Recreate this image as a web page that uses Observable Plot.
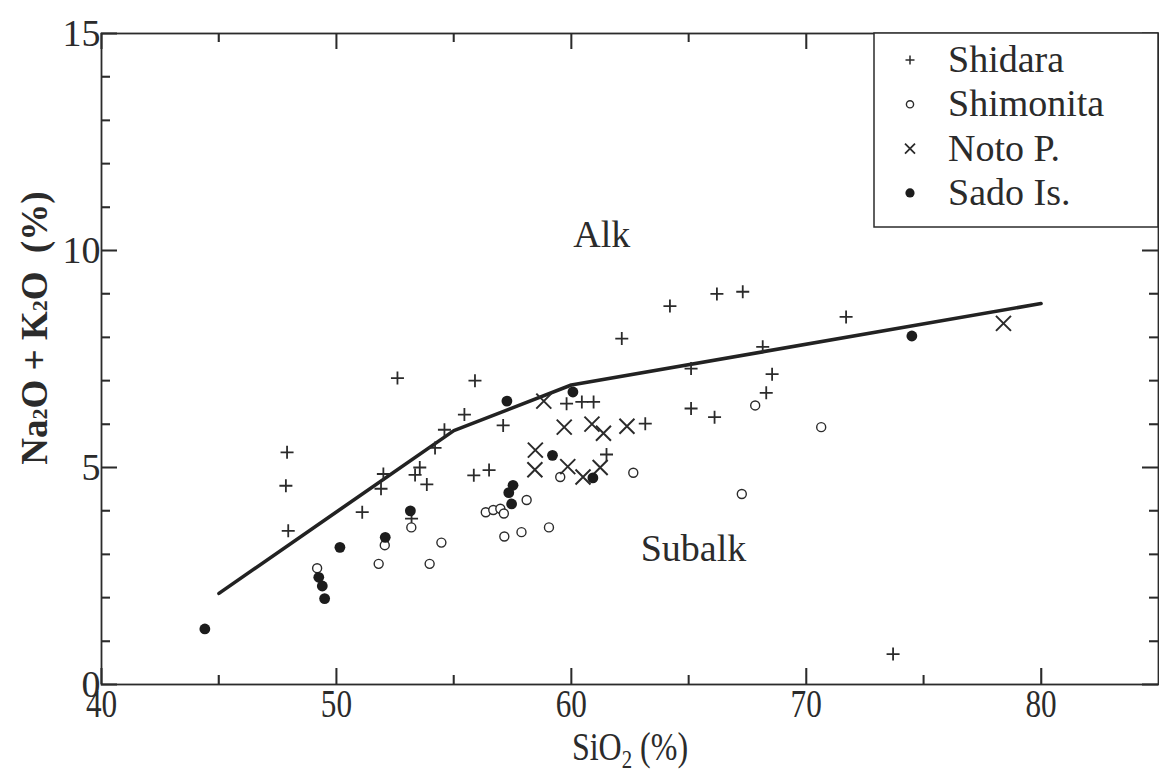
<!DOCTYPE html>
<html><head><meta charset="utf-8">
<script src="https://cdn.jsdelivr.net/npm/d3@7"></script>
<script src="https://cdn.jsdelivr.net/npm/@observablehq/plot@0.6"></script>
<style>
html,body{margin:0;padding:0;background:#fff;}
#chart{width:1159px;height:776px;overflow:hidden;}
</style></head><body><div id="chart"></div>
<script>
// ---- data ----
const seriesNames = ["Shidara", "Shimonita", "Noto P.", "Sado Is."];

const shidaraSiO2 = [47.9,47.85,47.95,51.1,52.0,51.9,52.6,55.9,62.15,55.45,54.6,54.2,57.1,59.8,60.45,60.95,63.15,61.5,53.55,53.35,53.85,55.85,56.5,53.2,64.2,66.2,67.3,71.7,68.15,65.1,68.55,68.3,65.1,66.1,73.7];
const shidaraAlkali = [5.35,4.58,3.54,3.97,4.85,4.51,7.06,7.0,7.97,6.22,5.87,5.45,5.97,6.47,6.51,6.51,6.01,5.3,5.0,4.83,4.61,4.82,4.94,3.82,8.72,9.0,9.05,8.47,7.78,7.28,7.15,6.72,6.36,6.16,0.7];

const shimonitaSiO2 = [49.18,51.8,52.06,53.19,54.47,53.97,56.36,56.68,56.98,57.13,58.1,57.15,57.88,59.05,59.53,62.64,67.83,70.64,67.26];
const shimonitaAlkali = [2.68,2.78,3.21,3.62,3.27,2.78,3.97,4.02,4.05,3.94,4.25,3.41,3.51,3.62,4.78,4.88,6.43,5.93,4.39];

const notoSiO2 = [58.83,59.7,60.88,61.37,62.37,58.47,58.45,59.85,60.5,61.23,78.4];
const notoAlkali = [6.53,5.93,6.0,5.79,5.95,5.4,4.95,5.02,4.78,5.0,8.32];

const sadoSiO2 = [44.4,50.15,49.25,49.4,49.5,52.08,53.15,57.26,60.07,59.2,60.92,57.52,57.34,57.46,74.5];
const sadoAlkali = [1.28,3.16,2.47,2.27,1.98,3.39,4.0,6.53,6.74,5.28,4.76,4.59,4.42,4.16,8.03];

const boundarySiO2 = [45, 55, 60, 80];
const boundaryAlkali = [2.1, 5.85, 6.9, 8.78];

const fieldLabels = ["Alk", "Subalk"];
const fieldLabelSiO2 = [61.3, 65.2];
const fieldLabelAlkali = [10.36, 3.13];

const xMajorTicks = [40, 50, 60, 70, 80];
const xMinorTicks = [45, 55, 65, 75];
const yMajorTicks = [0, 5, 10, 15];
const yMinorTicks = [1, 2, 3, 4, 6, 7, 8, 9, 11, 12, 13, 14];

// ---- build tables ----
const toRows = (xs, ys) => xs.map((x, i) => ({x, y: ys[i]}));
const shidara = toRows(shidaraSiO2, shidaraAlkali);
const shimonita = toRows(shimonitaSiO2, shimonitaAlkali);
const noto = toRows(notoSiO2, notoAlkali);
const sado = toRows(sadoSiO2, sadoAlkali);
const boundary = toRows(boundarySiO2, boundaryAlkali);
const fields = fieldLabels.map((t, i) => ({t, x: fieldLabelSiO2[i], y: fieldLabelAlkali[i]}));

// custom stroke symbols (r = Plot radius = half extent)
const plusSymbol = {draw(ctx, size) { const r = Math.sqrt(size / Math.PI); ctx.moveTo(-r, 0); ctx.lineTo(r, 0); ctx.moveTo(0, -r); ctx.lineTo(0, r); }};
const timesSymbol = {draw(ctx, size) { const r = Math.sqrt(size / Math.PI); ctx.moveTo(-r, -r); ctx.lineTo(r, r); ctx.moveTo(-r, r); ctx.lineTo(r, -r); }};

const W = 1159, H = 776;
const mL = 101, mR = 1, mT = 33, mB = 92;
const frameW = W - mL - mR, frameH = H - mT - mB;
const ink = "#2b2b2b";
const serif = "'Liberation Serif', 'Times New Roman', 'DejaVu Serif', serif";
const xDomain = [40, 85], yDomain = [0, 15];

const tk = {stroke: ink, strokeWidth: 1.6};
const chart = Plot.plot({
  width: W, height: H,
  marginLeft: mL, marginRight: mR, marginTop: mT, marginBottom: mB,
  style: {fontFamily: serif, color: ink, background: "#fff", overflow: "visible"},
  x: {domain: xDomain, axis: null},
  y: {domain: yDomain, axis: null},
  marks: [
    Plot.frame({stroke: ink, strokeWidth: 1.8, fill: "none"}),
    // inward ticks on all four sides (ticks span the frame, trimmed by insets)
    Plot.tickX(xMajorTicks, {x: d => d, ...tk, insetTop: frameH - 16}),
    Plot.tickX(xMinorTicks, {x: d => d, ...tk, insetTop: frameH - 9}),
    Plot.tickX(xMajorTicks, {x: d => d, ...tk, insetBottom: frameH - 16}),
    Plot.tickX(xMinorTicks, {x: d => d, ...tk, insetBottom: frameH - 9}),
    Plot.tickY(yMajorTicks, {y: d => d, ...tk, insetRight: frameW - 16}),
    Plot.tickY(yMinorTicks, {y: d => d, ...tk, insetRight: frameW - 9}),
    Plot.tickY(yMajorTicks, {y: d => d, ...tk, insetLeft: frameW - 16}),
    Plot.tickY(yMinorTicks, {y: d => d, ...tk, insetLeft: frameW - 9}),
    Plot.axisX(xMajorTicks, {tickSize: 0, tickPadding: 4, fontSize: 40, fill: ink, label: null}),
    Plot.axisY(yMajorTicks, {tickSize: 0, tickPadding: 1, fontSize: 38, fill: ink, label: null}),
    // boundary line
    Plot.line(boundary, {x: "x", y: "y", stroke: "#222", strokeWidth: 3.6}),
    // field labels
    Plot.text(fields, {x: "x", y: "y", text: "t", fontSize: 38, fill: ink, textAnchor: "middle"}),
    // data
    Plot.dot(shidara, {x: "x", y: "y", symbol: plusSymbol, r: 6.5, fill: "none", stroke: ink, strokeWidth: 1.8}),
    Plot.dot(shimonita, {x: "x", y: "y", symbol: "circle", r: 4.5, fill: "#fff", stroke: ink, strokeWidth: 1.4}),
    Plot.dot(noto, {x: "x", y: "y", symbol: timesSymbol, r: 7.5, fill: "none", stroke: ink, strokeWidth: 2}),
    Plot.dot(sado, {x: "x", y: "y", symbol: "circle", r: 5.4, fill: "#1c1c1c", stroke: "none"})
  ]
});

document.getElementById("chart").appendChild(chart);
const svg = d3.select(chart);

// fallback inward ticks (same scales as the plot) in case the tick marks are hidden
{
  const sx = d3.scaleLinear(xDomain, [mL, W - mR]);
  const sy = d3.scaleLinear(yDomain, [H - mB, mT]);
  const g = svg.append("g").attr("aria-label", "frame ticks").attr("stroke", ink).attr("stroke-width", 1.6);
  const xt = [...xMajorTicks.map(v => [v, 16]), ...xMinorTicks.map(v => [v, 9])];
  const yt = [...yMajorTicks.map(v => [v, 16]), ...yMinorTicks.map(v => [v, 9])];
  xt.forEach(([v, L]) => {
    const x = Math.round(sx(v)) + 0.5;
    g.append("line").attr("x1", x).attr("x2", x).attr("y1", H - mB).attr("y2", H - mB - L);
    g.append("line").attr("x1", x).attr("x2", x).attr("y1", mT).attr("y2", mT + L);
  });
  yt.forEach(([v, L]) => {
    const y = Math.round(sy(v)) + 0.5;
    g.append("line").attr("x1", mL).attr("x2", mL + L).attr("y1", y).attr("y2", y);
    g.append("line").attr("x1", W - mR).attr("x2", W - mR - L).attr("y1", y).attr("y2", y);
  });
}

// condense x tick labels like the reference typeface
svg.selectAll('g[aria-label="x-axis tick label"] text').each(function() {
  const w = this.getComputedTextLength();
  this.setAttribute("textLength", (w * 0.78).toFixed(1));
  this.setAttribute("lengthAdjust", "spacingAndGlyphs");
});

// axis titles
const xtt = svg.append("text")
  .attr("x", 630).attr("y", 760)
  .attr("text-anchor", "middle")
  .attr("font-family", serif).attr("font-size", 40).attr("fill", ink);
xtt.append("tspan").text("SiO");
xtt.append("tspan").attr("font-size", 26).attr("dy", 8).text("2");
xtt.append("tspan").attr("dy", -8).text(" (%)");
{
  const n = xtt.node(); const w = n.getComputedTextLength();
  n.setAttribute("textLength", (w * 0.8).toFixed(1));
  n.setAttribute("lengthAdjust", "spacingAndGlyphs");
}

const ytt = svg.append("text")
  .attr("transform", "translate(47,328) rotate(-90)")
  .attr("text-anchor", "middle")
  .attr("font-family", serif).attr("font-size", 37).attr("font-weight", "bold").attr("fill", ink);
ytt.append("tspan").text("Na");
ytt.append("tspan").attr("font-size", 22).text("2");
ytt.append("tspan").text("O + K");
ytt.append("tspan").attr("font-size", 22).text("2");
ytt.append("tspan").text("O  (%)");

// legend
const lg = svg.append("g").attr("aria-label", "legend");
lg.append("rect").attr("x", 874).attr("y", 33).attr("width", 1158 - 874).attr("height", 194)
  .attr("fill", "#fff").attr("stroke", ink).attr("stroke-width", 1.5);
const legendSymbols = [
  {sym: plusSymbol, r: 4.5, fill: "none", stroke: ink, sw: 1.5},
  {sym: d3.symbolCircle, r: 3.6, fill: "#fff", stroke: ink, sw: 1.4},
  {sym: timesSymbol, r: 5, fill: "none", stroke: ink, sw: 1.8},
  {sym: d3.symbolCircle, r: 4.6, fill: "#1c1c1c", stroke: "none", sw: 0}
];
seriesNames.forEach((name, i) => {
  const cy = 60 + i * 44.3;
  const s = legendSymbols[i];
  lg.append("path")
    .attr("transform", `translate(910,${cy})`)
    .attr("d", d3.symbol(s.sym, s.r * s.r * Math.PI)())
    .attr("fill", s.fill).attr("stroke", s.stroke).attr("stroke-width", s.sw);
  lg.append("text").attr("x", 948).attr("y", cy + 12)
    .attr("text-anchor", "start")
    .attr("font-family", serif).attr("font-size", 38).attr("fill", ink).text(name);
});
</script>
</body></html>
